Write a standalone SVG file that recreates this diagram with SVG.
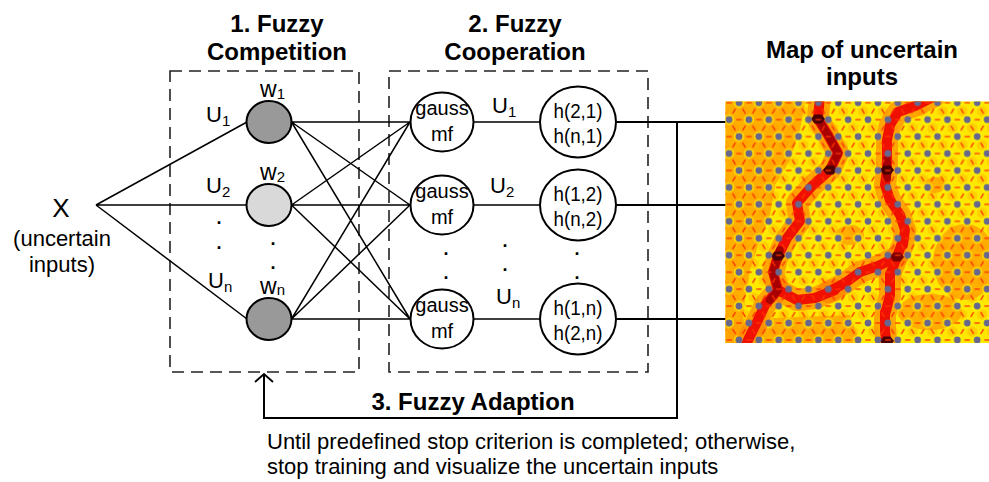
<svg xmlns="http://www.w3.org/2000/svg" width="989" height="482" viewBox="0 0 989 482">
<style>
text{font-family:"Liberation Sans",Arial,Helvetica,sans-serif;fill:#000}
.ttl{font-size:24px;font-weight:bold}
.u{font-size:22px}
.w{font-size:23px}
.sub{font-size:15px}
.el{font-size:18px;font-weight:bold}
.in{font-size:20px}
.hl{font-size:21px}
.nd{stroke:#000;stroke-width:2}
.wire{stroke:#000;stroke-width:1.5;fill:none}
.out{stroke:#000;stroke-width:2;fill:none}
.box{fill:none;stroke:#222;stroke-width:1.6;stroke-dasharray:12 7}
.halo{fill:none;stroke:#ff7a00;stroke-opacity:.6;stroke-width:22;stroke-linejoin:round;stroke-linecap:round}
.red{fill:none;stroke:#f01000;stroke-width:10;stroke-linejoin:round;stroke-linecap:round}
.dk{fill:none;stroke:#a80000;stroke-width:8;stroke-linejoin:round;stroke-linecap:round}
.vd{fill:#4a0000}
.hexY{fill:#ffff00;fill-opacity:.5}
.hexO{fill:#ff9800;fill-opacity:.3}
.dash{stroke:#ff3000;stroke-width:1.3}
.dot{fill:#66668f}
</style>
<defs>
  <marker id="arr" viewBox="-1 -1 10 20" refX="8" refY="9" markerWidth="10" markerHeight="20" markerUnits="userSpaceOnUse" orient="auto">
    <path d="M0,0 L8,9 L0,18" fill="none" stroke="#000" stroke-width="1.8"/>
  </marker>
  <path id="hx" d="M0,-5.7 L4.94,-2.85 L4.94,2.85 L0,5.7 L-4.94,2.85 L-4.94,-2.85Z"/>
  <path id="dhx" d="M-7,0 L-3.5,-4.5 L3.5,-4.5 L7,0 L3.5,4.5 L-3.5,4.5Z"/>
  <clipPath id="mapclip"><rect x="725.5" y="101.5" width="263.5" height="241.5"/></clipPath>
  <!-- hexagonal cell shading of the SOM lattice -->
  <pattern id="cells" patternUnits="userSpaceOnUse" x="739" y="102.7" width="19.85" height="33.9">
    <use href="#hx" class="hexY" x="0" y="0"/>
    <use href="#hx" class="hexY" x="19.85" y="0"/>
    <use href="#hx" class="hexY" x="0" y="33.9"/>
    <use href="#hx" class="hexY" x="19.85" y="33.9"/>
    <use href="#hx" class="hexY" x="9.925" y="16.95"/>
    <use href="#hx" class="hexO" x="4.963" y="8.475"/>
    <use href="#hx" class="hexO" x="14.888" y="25.425"/>
  </pattern>
  <!-- neurons and neighbour links -->
  <pattern id="grid" patternUnits="userSpaceOnUse" x="739" y="102.7" width="19.85" height="33.9">
    <line class="dash" x1="7.2" y1="0" x2="12.65" y2="0"/>
    <line class="dash" x1="7.2" y1="33.9" x2="12.65" y2="33.9"/>
    <line class="dash" x1="-2.7" y1="16.95" x2="2.7" y2="16.95"/>
    <line class="dash" x1="17.15" y1="16.95" x2="22.55" y2="16.95"/>
    <line class="dash" x1="3.55" y1="6.05" x2="6.37" y2="10.9"/>
    <line class="dash" x1="16.3" y1="6.05" x2="13.47" y2="10.9"/>
    <line class="dash" x1="6.37" y1="23.0" x2="3.55" y2="27.85"/>
    <line class="dash" x1="13.47" y1="23.0" x2="16.3" y2="27.85"/>
    <circle class="dot" cx="0" cy="0" r="3.4"/>
    <circle class="dot" cx="19.85" cy="0" r="3.4"/>
    <circle class="dot" cx="0" cy="33.9" r="3.4"/>
    <circle class="dot" cx="19.85" cy="33.9" r="3.4"/>
    <circle class="dot" cx="9.925" cy="16.95" r="3.4"/>
  </pattern>
</defs>
<rect width="989" height="482" fill="#fff"/>

<!-- stage titles -->
<text class="ttl" x="277" y="32" text-anchor="middle">1. Fuzzy</text>
<text class="ttl" x="277" y="60" text-anchor="middle">Competition</text>
<text class="ttl" x="515" y="32" text-anchor="middle">2. Fuzzy</text>
<text class="ttl" x="515" y="60" text-anchor="middle">Cooperation</text>
<text class="ttl" x="862" y="58" text-anchor="middle">Map of uncertain</text>
<text class="ttl" x="862" y="85" text-anchor="middle">inputs</text>

<!-- stage frames -->
<rect class="box" x="170" y="71" width="189" height="301"/>
<rect class="box" x="389" y="71" width="259" height="301"/>

<!-- connectors -->
<g id="connectors">
  <path class="wire" d="M96,205 L247,122 M96,205 L247,205 M96,205 L247,319"/>
  <path class="wire" d="M291.5,122 L410,122 M291.5,122 L410,205 M291.5,122 L410,319
                        M291.5,205 L410,122 M291.5,205 L410,205 M291.5,205 L410,319
                        M291.5,319 L410,122 M291.5,319 L410,205 M291.5,319 L410,319"/>
  <path class="wire" d="M473.5,122 H540 M473.5,205 H540 M473.5,319 H540"/>
  <path class="out" d="M616.5,122 H726 M616.5,205 H726 M616.5,319 H726"/>
  <path class="out" d="M677,122 V418 H264 V374" marker-end="url(#arr)"/>
</g>

<!-- input -->
<g id="input-x">
  <text x="61" y="217" font-size="26" text-anchor="middle">X</text>
  <text class="u" x="62" y="246" text-anchor="middle">(uncertain</text>
  <text class="u" x="62" y="272" text-anchor="middle">inputs)</text>
</g>

<!-- competition layer -->
<g id="comp-w1">
  <ellipse class="nd" cx="269" cy="122" rx="22.5" ry="21" fill="#999"/>
  <text class="w" x="260" y="97">w<tspan class="sub" dy="2">1</tspan></text>
</g>
<g id="comp-w2">
  <ellipse class="nd" cx="269" cy="205" rx="22.5" ry="21" fill="#d9d9d9"/>
  <text class="w" x="260" y="180">w<tspan class="sub" dy="2">2</tspan></text>
</g>
<g id="comp-wn">
  <ellipse class="nd" cx="269" cy="319" rx="22.5" ry="21" fill="#999"/>
  <text class="w" x="260" y="294">w<tspan class="sub" dy="1">n</tspan></text>
</g>
<g id="comp-labels">
  <text class="u" x="206" y="122">U<tspan class="sub" dy="4">1</tspan></text>
  <text class="u" x="206" y="193">U<tspan class="sub" dy="4">2</tspan></text>
  <text class="u" x="208" y="288">U<tspan class="sub" dy="4">n</tspan></text>
  <text class="el" x="219" y="224" text-anchor="middle">.</text>
  <text class="el" x="219" y="249" text-anchor="middle">.</text>
  <text class="el" x="273" y="244.5" text-anchor="middle">.</text>
  <text class="el" x="273" y="269" text-anchor="middle">.</text>
</g>

<!-- cooperation layer -->
<g id="gauss-1">
  <ellipse class="nd" cx="442" cy="122" rx="31.5" ry="29.5" fill="#fff"/>
  <text class="in" x="442" y="115" text-anchor="middle">gauss</text>
  <text class="in" x="442" y="141" text-anchor="middle">mf</text>
</g>
<g id="gauss-2">
  <ellipse class="nd" cx="442" cy="205" rx="31.5" ry="29.5" fill="#fff"/>
  <text class="in" x="442" y="198" text-anchor="middle">gauss</text>
  <text class="in" x="442" y="224" text-anchor="middle">mf</text>
</g>
<g id="gauss-n">
  <ellipse class="nd" cx="442" cy="319" rx="31.5" ry="29.5" fill="#fff"/>
  <text class="in" x="442" y="312" text-anchor="middle">gauss</text>
  <text class="in" x="442" y="338" text-anchor="middle">mf</text>
</g>
<g id="h-1">
  <ellipse class="nd" cx="578" cy="122" rx="38" ry="35.5" fill="#fff"/>
  <text class="hl" x="578" y="118" text-anchor="middle" textLength="49" lengthAdjust="spacingAndGlyphs">h(2,1)</text>
  <text class="hl" x="578" y="143" text-anchor="middle" textLength="49" lengthAdjust="spacingAndGlyphs">h(n,1)</text>
</g>
<g id="h-2">
  <ellipse class="nd" cx="578" cy="205" rx="38" ry="35.5" fill="#fff"/>
  <text class="hl" x="578" y="201" text-anchor="middle" textLength="49" lengthAdjust="spacingAndGlyphs">h(1,2)</text>
  <text class="hl" x="578" y="226" text-anchor="middle" textLength="49" lengthAdjust="spacingAndGlyphs">h(n,2)</text>
</g>
<g id="h-n">
  <ellipse class="nd" cx="578" cy="319" rx="38" ry="35.5" fill="#fff"/>
  <text class="hl" x="578" y="315" text-anchor="middle" textLength="49" lengthAdjust="spacingAndGlyphs">h(1,n)</text>
  <text class="hl" x="578" y="340" text-anchor="middle" textLength="49" lengthAdjust="spacingAndGlyphs">h(2,n)</text>
</g>
<g id="coop-labels">
  <text class="u" x="492" y="113">U<tspan class="sub" dy="4">1</tspan></text>
  <text class="u" x="490" y="193">U<tspan class="sub" dy="4">2</tspan></text>
  <text class="u" x="496" y="304">U<tspan class="sub" dy="4">n</tspan></text>
  <text class="el" x="446" y="255" text-anchor="middle">.</text>
  <text class="el" x="446" y="279" text-anchor="middle">.</text>
  <text class="el" x="505" y="247" text-anchor="middle">.</text>
  <text class="el" x="505" y="271" text-anchor="middle">.</text>
  <text class="el" x="577" y="255" text-anchor="middle">.</text>
  <text class="el" x="577" y="279" text-anchor="middle">.</text>
</g>

<!-- adaption loop -->
<g id="adaption">
  <text class="ttl" x="473" y="410" text-anchor="middle">3. Fuzzy Adaption</text>
  <text class="u" x="267" y="449">Until predefined stop criterion is completed; otherwise,</text>
  <text class="u" x="267" y="474">stop training and visualize the uncertain inputs</text>
</g>

<!-- SOM U-matrix -->
<g id="map" clip-path="url(#mapclip)">
  <rect x="725" y="101" width="264" height="243" fill="#ffe800"/>
  <g fill="#ffa000" fill-opacity=".8">
    <path d="M725,101 L805,101 L800,130 L790,160 L775,185 L770,215 L760,240 L750,270 L745,300 L740,343 L725,343Z"/>
    <path d="M725,320 L850,315 L860,343 L725,343Z"/>
    <ellipse cx="965" cy="262" rx="32" ry="38"/>
    <ellipse cx="930" cy="312" rx="32" ry="18"/>
    <ellipse cx="850" cy="235" rx="14" ry="10"/>
    <ellipse cx="935" cy="185" rx="10" ry="8"/>
  </g>
  <rect x="725" y="101" width="264" height="243" fill="url(#cells)"/>
  <g id="ridges">
    <polyline class="halo" points="820,96 818,119 828,135 838,153 830,170 812,186 797,203 800,221 787,238 778,256 773,272 778,290 765,305 757,322 748,340 744,350"/>
    <polyline class="halo" points="778,290 797,300 815,298 835,290"/>
    <polyline class="halo" points="935,96 915,106 898,112 890,125 887,140 887,155 887,170 885,185 890,200 900,215 905,230 903,245 897,257 890,275 890,295 885,315 885,330 887,350"/>
    <polyline class="halo" points="897,257 878,266 860,272 845,283 828,292"/>
    <polyline class="red" points="820,96 818,119 828,135 838,153 830,170 812,186 797,203 800,221 787,238 778,256 773,272 778,290 765,305 757,322 748,340 744,350"/>
    <polyline class="red" points="778,290 797,300 815,298 835,290"/>
    <polyline class="red" points="935,96 915,106 898,112 890,125 887,140 887,155 887,170 885,185 890,200"/>
    <polyline class="red" points="903,240 897,257 890,275" />
    <polyline class="red" points="885,312 885,330 887,350"/>
    <polyline class="red" points="897,257 878,266 860,272 845,283 828,292"/>
    <polyline class="red" stroke="#ff4a00" points="890,200 900,215 905,230 903,245"/>
    <polyline class="red" stroke="#ff4a00" points="890,275 890,295 885,315"/>
    <polyline class="dk" points="818,119 828,135 838,153 830,170"/>
    <polyline class="dk" points="780,250 773,272 778,290 770,300"/>
    <polyline class="dk" points="887,160 887,178"/>
    <use href="#dhx" class="vd" x="818" y="119"/>
    <use href="#dhx" class="vd" x="830" y="170"/>
    <use href="#dhx" class="vd" x="778" y="256"/>
    <use href="#dhx" class="vd" x="887" y="170"/>
    <use href="#dhx" fill="#7a0000" x="897" y="257"/>
    <use href="#dhx" class="vd" x="887" y="341"/>
  </g>
  <rect x="725" y="101" width="264" height="243" fill="url(#grid)"/>
</g>
</svg>
